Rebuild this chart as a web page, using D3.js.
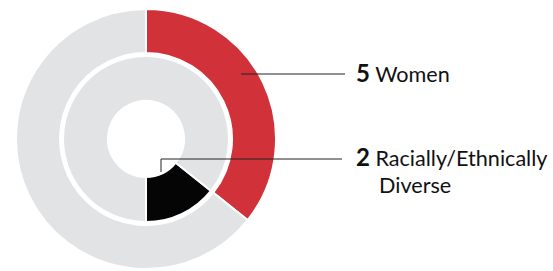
<!DOCTYPE html>
<html>
<head>
<meta charset="utf-8">
<script src="https://cdn.jsdelivr.net/npm/d3@7"></script>
<style>
  body { margin: 0; background: #fff; }
  svg { display: block; font-family: Lato, "Open Sans", sans-serif; }
</style>
</head>
<body>
<script>
// Board composition
const boardTotal = 14;
const outerLabels = ["Women", "Other"];
const outerValues = [5, 9];
const innerLabels = ["Racially/Ethnically", "Diverse"];
const innerValues = [2, 12];
const outerColors = ["#d1323a", "#e2e3e4"];
const innerColors = ["#050505", "#e2e3e4"];

const width = 553, height = 271;
const cx = 146, cy = 139;

const svg = d3.select("body").append("svg")
    .attr("width", width)
    .attr("height", height);

const g = svg.append("g").attr("transform", `translate(${cx},${cy})`);

// Outer ring starts at 12 o'clock
const outerPie = d3.pie().sort(null).value(d => d)
    .startAngle(0).endAngle(2 * Math.PI);
const outerArc = d3.arc().innerRadius(86).outerRadius(130);

g.selectAll(".outer")
    .data(outerPie(outerValues))
    .enter().append("path")
    .attr("class", "outer")
    .attr("d", outerArc)
    .style("fill", (d, i) => outerColors[i])
    .style("stroke", "#fff")
    .style("stroke-width", "2px");

// Inner ring picks up where the women segment ends
const innerStart = outerValues[0] / boardTotal * 2 * Math.PI;
const innerPie = d3.pie().sort(null).value(d => d)
    .startAngle(innerStart).endAngle(innerStart + 2 * Math.PI);
const innerArc = d3.arc().innerRadius(38).outerRadius(83);

g.selectAll(".inner")
    .data(innerPie(innerValues))
    .enter().append("path")
    .attr("class", "inner")
    .attr("d", innerArc)
    .style("fill", (d, i) => innerColors[i])
    .style("stroke", "#fff")
    .style("stroke-width", "2px");

// Leader lines
svg.append("path")
    .attr("d", `M${cx + 95},74H345`)
    .style("fill", "none")
    .style("stroke", "#222")
    .style("stroke-width", "1px");

svg.append("path")
    .attr("d", `M${cx + 15},172V159H342`)
    .style("fill", "none")
    .style("stroke", "#222")
    .style("stroke-width", "1px");

// Labels
const numSize = "24px", txtSize = "21.6px";
const t1 = svg.append("text").attr("x", 356).attr("y", 82).style("fill", "#111");
t1.append("tspan").text(outerValues[0]).style("font-weight", "bold").style("font-size", numSize);
t1.append("tspan").text(" " + outerLabels[0]).style("font-size", txtSize);

const t2 = svg.append("text").attr("x", 356).attr("y", 166).style("fill", "#111");
t2.append("tspan").text(innerValues[0]).style("font-weight", "bold").style("font-size", numSize);
t2.append("tspan").text(" " + innerLabels[0]).style("font-size", txtSize);

svg.append("text").attr("x", 379).attr("y", 193)
    .style("fill", "#111").style("font-size", txtSize)
    .text(innerLabels[1]);
</script>
</body>
</html>
